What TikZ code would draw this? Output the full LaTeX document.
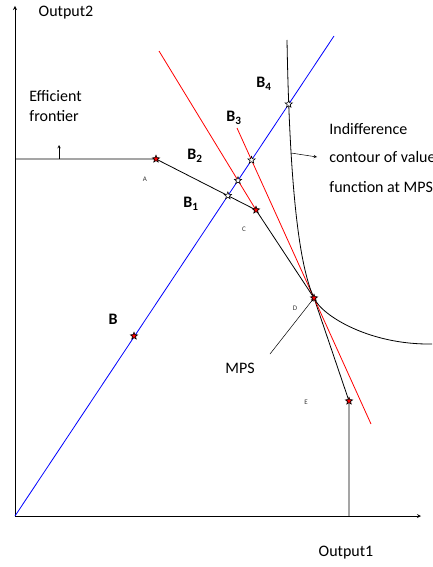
\documentclass[tikz,border=0pt]{standalone}
\usepackage{fontspec}
\setmainfont{Carlito}
\usetikzlibrary{shapes.geometric,positioning,intersections}

\begin{document}
\begin{tikzpicture}[x=1pt, y=-1pt, >=stealth, line width=0.8pt, font=\fontsize{16}{18}\selectfont]

% Styles
\tikzstyle{pt} = [draw=black, star, star points=5, star point ratio=2.3, inner sep=0pt, minimum size=7.5pt, fill=white, line width=0.6pt]
\tikzstyle{redpt} = [pt, fill=red]
\tikzstyle{tinylab} = [font=\fontsize{7}{8}\selectfont, text=black!80]
\tikzstyle{blab} = [font=\fontsize{16}{18}\selectfont\bfseries]
\tikzstyle{txt} = [anchor=west, inner sep=0pt]

\useasboundingbox (0,0) rectangle (432,567);

% Axes
\coordinate (O) at (15,516);
\coordinate (ytop) at (15,6);
\coordinate (xend) at (421,516);
\draw[->] (O) -- (ytop);
\draw[->] (O) -- (xend);
\node (out2) at (66,13) {Output2};
\node (out1) at (346,553) {Output1};

% Frontier points
\coordinate (A) at (156,159);
\coordinate (C) at (256,210);
\coordinate (D) at (314,298);
\coordinate (E) at (349,401);
\draw[name path=frontier] (O|-A) -- (A) -- (C) -- (D) -- (E) -- (E|-O);

% Efficient frontier label
\coordinate (effbase) at (59,159);
\coordinate (efftip) at (59,145);
\draw[->, line width=0.5pt] (effbase) -- (efftip);
\node[txt] (eff1) at (29,96) {Efficient};
\node[txt, below=8pt of eff1.south west, anchor=north west] (eff2) {frontier};

% Ray through the origin
\coordinate (rayend) at (334,36);
\draw[blue, name path=ray] (O) -- (rayend);

% Price lines
\coordinate (r1start) at (159,51);
\draw[red, name path=red1] (r1start) -- (C);
\coordinate (r2start) at (237,128);
\coordinate (r2end) at (371,424);
\draw[red, name path=red2] (r2start) -- (r2end);

% Indifference contour
\draw[name path=contour] (287,40) .. controls (290,210) and (302,272) .. (D)
  .. controls (322,316) and (370,345) .. (432,344);
\coordinate (cc) at (291,153);
\coordinate (ccend) at (317,157);
\draw[->, line width=0.5pt] (cc) -- (ccend);
\node[txt] (ind1) at (329,129) {Indifference};
\node[txt] (ind2) at (329,157) {contour of value};
\node[txt] (ind3) at (329,187) {function at MPS};

% MPS
\node (mps) at (240,368) {MPS};
\coordinate (mpstail) at (270,354);
\draw[->, line width=0.5pt] (mpstail) -- (D);

% Intersections
\path[name intersections={of=ray and frontier, by=B1}];
\path[name intersections={of=ray and red1, by=B2}];
\path[name intersections={of=ray and red2, by=B3}];
\path[name intersections={of=ray and contour, by=B4}];
\coordinate (B) at (134,336);

% Stars
\node[redpt] (sA) at (A) {};
\node[redpt] (sC) at (C) {};
\node[redpt] (sD) at (D) {};
\node[redpt] (sE) at (E) {};
\node[redpt] (sB) at (B) {};
\node[pt] (sB1) at (B1) {};
\node[pt] (sB2) at (B2) {};
\node[pt] (sB3) at (B3) {};
\node[pt] (sB4) at (B4) {};

% Labels
\node[tinylab] (lA) at (145,179) {A};
\node[tinylab] (lC) at (244,229) {C};
\node[tinylab] (lD) at (295,308) {D};
\node[tinylab] (lE) at (306,402) {E};
\node[blab] (lB) at (113,319) {B};
\node[blab] (lB1) at (191,204) {B\textsubscript{1}};
\node[blab] (lB2) at (195,156) {B\textsubscript{2}};
\node[blab] (lB3) at (234,118) {B\textsubscript{3}};
\node[blab] (lB4) at (264,84) {B\textsubscript{4}};

\end{tikzpicture}
\end{document}
